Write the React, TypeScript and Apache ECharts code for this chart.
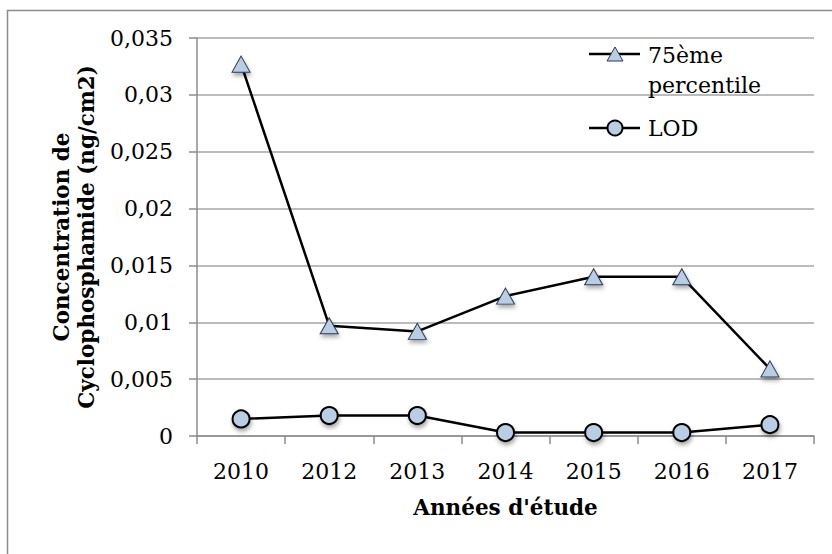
import React, { useEffect, useRef } from "react";
import * as echarts from "echarts";

const years = ["2010", "2012", "2013", "2014", "2015", "2016", "2017"];
const percentile75 = [0.0327, 0.0097, 0.0092, 0.0123, 0.014, 0.014, 0.0059];
const lod = [0.0015, 0.0018, 0.0018, 0.0003, 0.0003, 0.0003, 0.001];
const seriesNames = ["75ème percentile", "LOD"];
const legendLabels = ["75ème\npercentile", "LOD"];

const FONT = "DejaVu Serif";
const FILL = "#b9cde5";

export default function App() {
  const ref = useRef<HTMLDivElement>(null);
  useEffect(() => {
    if (!ref.current) return;
    const chart = echarts.init(ref.current, null, { renderer: "svg" });
    const shadow = {
      shadowBlur: 4,
      shadowOffsetX: 1,
      shadowOffsetY: 3,
      shadowColor: "rgba(0,0,0,0.35)",
    };
    chart.setOption({
      animation: false,
      backgroundColor: "#ffffff",
      graphic: [
        {
          type: "rect",
          left: 5,
          top: 8,
          shape: { width: 900, height: 600 },
          style: { fill: "none", stroke: "#8c8c8c", lineWidth: 1.5 },
          silent: true,
          z: -10,
        },
        {
          type: "line",
          shape: { x1: 589, y1: 54, x2: 640, y2: 54 },
          style: { stroke: "#000", lineWidth: 2.5 },
        },
        {
          type: "polygon",
          shape: { points: [[607, 61], [615, 47], [623, 61]] },
          style: { fill: FILL, stroke: "#2b3a4d", lineWidth: 1 },
        },
        {
          type: "line",
          shape: { x1: 589, y1: 128, x2: 640, y2: 128 },
          style: { stroke: "#000", lineWidth: 2.5 },
        },
        {
          type: "circle",
          shape: { cx: 615, cy: 128, r: 7.5 },
          style: { fill: FILL, stroke: "#000", lineWidth: 2 },
        },
      ],
      title: [
        {
          text: legendLabels[0],
          left: 648,
          top: 40,
          padding: 0,
          textStyle: { fontFamily: FONT, fontSize: 22, fontWeight: "normal", color: "#000", lineHeight: 30 },
        },
        {
          text: legendLabels[1],
          left: 648,
          top: 113,
          padding: 0,
          textStyle: { fontFamily: FONT, fontSize: 22, fontWeight: "normal", color: "#000", lineHeight: 30 },
        },
      ],
      grid: { left: 197, right: 18, top: 38, bottom: 118 },
      xAxis: {
        type: "category",
        data: years,
        boundaryGap: true,
        name: "Années d'étude",
        nameLocation: "middle",
        nameGap: 60,
        nameTextStyle: { fontFamily: FONT, fontSize: 21.5, fontWeight: "bold", color: "#000" },
        axisLine: { lineStyle: { color: "#8c8c8c", width: 1.5 } },
        axisTick: { show: true, length: 8, alignWithLabel: false, lineStyle: { color: "#8c8c8c", width: 1.5 } },
        axisLabel: { fontFamily: FONT, fontSize: 22, color: "#000", margin: 24 },
      },
      yAxis: {
        type: "value",
        min: 0,
        max: 0.035,
        interval: 0.005,
        name: "Concentration de\nCyclophosphamide (ng/cm2)",
        nameLocation: "middle",
        nameRotate: 90,
        nameGap: 95,
        nameTextStyle: { fontFamily: FONT, fontSize: 21.5, fontWeight: "bold", color: "#000", lineHeight: 25 },
        axisLine: { show: true, lineStyle: { color: "#8c8c8c", width: 1.5 } },
        axisTick: { show: true, length: 8, lineStyle: { color: "#8c8c8c", width: 1.5 } },
        splitLine: { lineStyle: { color: "#a6a6a6", width: 1.5 } },
        axisLabel: {
          fontFamily: FONT,
          fontSize: 22,
          color: "#000",
          margin: 24,
          formatter: (v: number) => String(parseFloat(v.toFixed(4))).replace(".", ","),
        },
      },
      series: [
        {
          name: seriesNames[0],
          type: "line",
          data: percentile75,
          symbol: "triangle",
          symbolSize: [18, 16],
          showAllSymbol: true,
          lineStyle: { color: "#000", width: 2.5 },
          itemStyle: { color: FILL, borderColor: "#2b3a4d", borderWidth: 1, ...shadow },
          z: 3,
        },
        {
          name: seriesNames[1],
          type: "line",
          data: lod,
          symbol: "circle",
          symbolSize: 17,
          showAllSymbol: true,
          lineStyle: { color: "#000", width: 2.5 },
          itemStyle: { color: FILL, borderColor: "#000", borderWidth: 2, ...shadow },
          z: 3,
        },
      ],
    });
    return () => chart.dispose();
  }, []);
  return (
    <div
      ref={ref}
      style={{ position: "absolute", left: 0, top: 0, width: 832, height: 554 }}
    />
  );
}
